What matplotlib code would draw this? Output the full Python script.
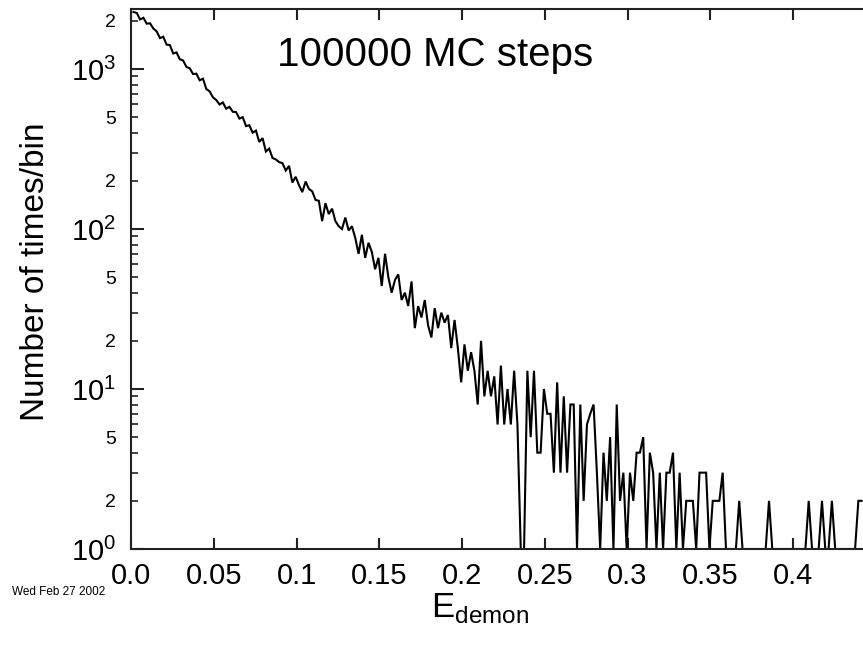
import numpy as np
import matplotlib
matplotlib.use("Agg")
import matplotlib.pyplot as plt
from matplotlib.ticker import FixedLocator, FixedFormatter

plt.rcParams['font.family'] = ['Liberation Sans', 'DejaVu Sans']
plt.rcParams['mathtext.fontset'] = 'custom'
plt.rcParams['mathtext.rm'] = 'Liberation Sans'

# ---- data -------------------------------------------------------------
bin_width = 0.002
first_bin = 0.0015
counts = [
    2270, 2240, 2040, 2090, 1920, 1930, 1790, 1720, 1560, 1590,
    1420, 1410, 1250, 1270, 1150, 1130, 1030, 1010, 930, 935,
    850, 870, 750, 725, 665, 640, 600, 618, 565, 580,
    540, 538, 490, 500, 440, 445, 400, 412, 350, 370,
    305, 318, 278, 272, 262, 258, 232, 248, 195, 212,
    188, 170, 198, 178, 172, 152, 150, 112, 145, 124,
    134, 112, 104, 100, 118, 98, 104, 88, 70, 92,
    66, 82, 72, 56, 66, 44, 70, 50, 40, 48,
    52, 36, 40, 33, 47, 24, 33, 28, 36, 25,
    21, 32, 24, 30, 26, 29, 18, 27, 18, 11,
    19, 13, 17, 13, 8, 20, 9, 13, 9, 12,
    6, 14, 6, 10, 6, 13, 6, 1, 1, 13,
    5, 13, 4, 4, 10, 7, 7, 3, 11, 3,
    9, 3, 8, 8, 1, 8, 2, 6, 7, 8,
    3, 1, 4, 2, 5, 1, 8, 2, 3, 1,
    3, 2, 4, 4, 5, 1, 4, 3, 1, 3,
    1, 3, 3, 4, 1, 3, 1, 2, 2, 2,
    1, 3, 3, 3, 1, 2, 2, 2, 3, 1,
    1, 1, 1, 2, 1, 1, 1, 1, 1, 1,
    1, 1, 2, 1, 1, 1, 1, 1, 1, 1,
    1, 1, 1, 1, 2, 1, 1, 1, 2, 1,
    1, 2, 1, 1, 1, 1, 1, 1, 1, 2,
    2,
]
x_ticks = [0.0, 0.05, 0.1, 0.15, 0.2, 0.25, 0.3, 0.35, 0.4]
x_tick_labels = ["0.0", "0.05", "0.1", "0.15", "0.2", "0.25", "0.3", "0.35", "0.4"]
y_major = [1, 10, 100, 1000]
y_major_labels = [r"$\mathregular{10^{0}}$", r"$\mathregular{10^{1}}$",
                  r"$\mathregular{10^{2}}$", r"$\mathregular{10^{3}}$"]
y_minor = [2, 3, 4, 5, 6, 7, 8, 9, 20, 30, 40, 50, 60, 70, 80, 90,
           200, 300, 400, 500, 600, 700, 800, 900, 2000]
y_minor_labeled = {2, 5, 20, 50, 200, 500, 2000}
title = "100000 MC steps"
xlabel = r"E$_{\mathregular{demon}}$"
ylabel = "Number of times/bin"
stamp = "Wed Feb 27 2002"

energies = first_bin + bin_width * np.arange(len(counts))

# ---- figure -------------------------------------------------------------
W, H = 863, 645
fig = plt.figure(figsize=(W / 100, H / 100), dpi=100)
ax_left, ax_bottom, ax_top = 131, 549, 9
ax = fig.add_axes([ax_left / W, 1 - ax_bottom / H, (W - ax_left) / W,
                   (ax_bottom - ax_top) / H])

ax.plot(energies, counts, color='black', lw=1.5, solid_joinstyle='miter')

ax.set_yscale('log')
ax.set_xlim(0, (W - ax_left) / 1655.0)
ax.set_ylim(1, 10 ** 3.375)

ax.xaxis.set_major_locator(FixedLocator(x_ticks))
ax.xaxis.set_major_formatter(FixedFormatter(x_tick_labels))
ax.xaxis.set_minor_locator(FixedLocator([]))
ax.yaxis.set_major_locator(FixedLocator(y_major))
ax.yaxis.set_major_formatter(FixedFormatter(y_major_labels))
ax.yaxis.set_minor_locator(FixedLocator(y_minor))
ax.yaxis.set_minor_formatter(FixedFormatter(
    [str(v)[0] if v in y_minor_labeled else "" for v in y_minor]))

for s in ['left', 'bottom', 'top']:
    ax.spines[s].set_linewidth(1.5)
    ax.spines[s].set_color('#222222')
ax.spines['right'].set_visible(False)

ax.tick_params(axis='x', which='major', direction='in', length=8, width=1.5,
               top=True, bottom=True, labelsize=21, pad=9, color='#222222')
ax.tick_params(axis='y', which='major', direction='in', length=9, width=1.5,
               left=True, right=False, labelsize=21, pad=11, color='#222222')
ax.tick_params(axis='y', which='minor', direction='in', length=5, width=1.2,
               left=True, right=False, labelsize=14, pad=11, color='#222222')

fig.text(435 / W, 1 - 55 / H, title, fontsize=29, ha='center', va='center')
fig.text(36 / W, 1 - 272 / H, ylabel, fontsize=24, rotation=90,
         ha='center', va='center')
fig.text(480 / W, 1 - 608 / H, xlabel, fontsize=25, ha='center', va='center')
fig.text(12 / W, 1 - 592 / H, stamp, fontsize=8.5, ha='left', va='center')

fig.savefig('out.png', dpi=100)
